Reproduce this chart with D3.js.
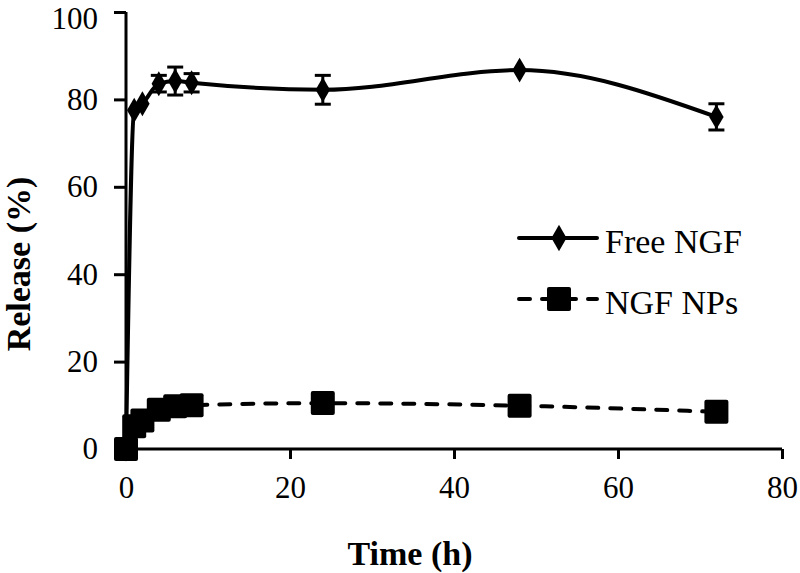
<!DOCTYPE html>
<html>
<head>
<meta charset="utf-8">
<script src="https://cdn.jsdelivr.net/npm/d3@7"></script>
<style>
  html, body { margin: 0; padding: 0; background: #fff; }
  svg { display: block; }
  text { font-family: "Liberation Serif", "Times New Roman", serif; fill: #000; }
</style>
</head>
<body>
<svg id="chart" width="800" height="573"></svg>
<script>
// ---- data ----
const times = [0, 1, 2, 4, 6, 8, 24, 48, 72];
const freeNGF = [0, 77.5, 79, 83.6, 84.2, 83.8, 82.2, 86.7, 76];
const freeNGFErr = [0, 0.5, 0.8, 1.9, 3.2, 2.1, 3.3, 0.6, 3];
const ngfNPs = [0, 5.2, 6.5, 9, 9.8, 10, 10.5, 9.9, 8.5];
const ngfNPsErr = [0, 0.5, 0.5, 0.5, 0.5, 0.5, 0.5, 0.5, 0.5];
const xTicks = [0, 20, 40, 60, 80];
const yTicks = [0, 20, 40, 60, 80, 100];
const seriesNames = ["Free NGF", "NGF NPs"];
const xTitle = "Time (h)";
const yTitle = "Release (%)";

// ---- layout ----
const FONT = '"Liberation Serif", "Times New Roman", serif';
const svg = d3.select("#chart");
const x = d3.scaleLinear().domain([0, 80]).range([126, 782]);
const y = d3.scaleLinear().domain([0, 100]).range([449, 12]);

const lineW = 4;

// axes
const xAxis = svg.append("g").attr("transform", `translate(0,${y(0)})`)
  .call(d3.axisBottom(x).tickValues(xTicks).tickSize(10).tickSizeOuter(0).tickPadding(17));
const yAxis = svg.append("g").attr("transform", `translate(${x(0)},0)`)
  .call(d3.axisLeft(y).tickValues(yTicks).tickSize(12).tickSizeOuter(0).tickPadding(16));
[xAxis, yAxis].forEach(g => {
  g.attr("font-family", null).attr("font-size", null);
  g.select(".domain").attr("stroke", "#000").attr("stroke-width", 3);
  g.selectAll(".tick line").attr("stroke", "#000").attr("stroke-width", 3);
  g.selectAll(".tick text").style("font-family", FONT).style("font-size", "31px").attr("fill", "#000");
});
// keep the top label inside the picture
yAxis.selectAll(".tick text").filter(d => d === 100).attr("dy", "0.54em");
xAxis.select(".domain").attr("d", `M${x(0) - 1.5},0H${x(80)}`);
yAxis.select(".domain").attr("d", `M0,${y(0) + 1.5}V${y(100)}`);

// axis titles
svg.append("text").attr("x", 410).attr("y", 565).attr("text-anchor", "middle")
  .style("font-family", FONT).style("font-size", "34px").style("font-weight", "bold").text(xTitle);
svg.append("text").attr("transform", "translate(30,264) rotate(-90)").attr("text-anchor", "middle")
  .style("font-family", FONT).style("font-size", "34px").style("font-weight", "bold").text(yTitle);

const curve = d3.curveMonotoneX;
const line = d3.line().x(d => x(d[0])).y(d => y(d[1])).curve(curve);

const freeData = times.map((t, i) => [t, freeNGF[i], freeNGFErr[i]]);
const npData = times.map((t, i) => [t, ngfNPs[i], ngfNPsErr[i]]);

function errorBars(data) {
  const g = svg.append("g").attr("stroke", "#000").attr("stroke-width", 3);
  data.forEach(d => {
    if (d[2] < 1) return;
    const cx = x(d[0]), y1 = y(d[1] + d[2]), y2 = y(d[1] - d[2]);
    g.append("line").attr("x1", cx).attr("x2", cx).attr("y1", y1).attr("y2", y2);
    g.append("line").attr("x1", cx - 8).attr("x2", cx + 8).attr("y1", y1).attr("y2", y1);
    g.append("line").attr("x1", cx - 8).attr("x2", cx + 8).attr("y1", y2).attr("y2", y2);
  });
}

// Free NGF
svg.append("path").datum(freeData).attr("d", line).attr("fill", "none")
  .attr("stroke", "#000").attr("stroke-width", lineW).attr("stroke-linecap", "round");
errorBars(freeData);
const diamond = d3.symbol().type(d3.symbolDiamond).size(180);
svg.append("g").selectAll("path").data(freeData).join("path")
  .attr("transform", d => `translate(${x(d[0])},${y(d[1])})`).attr("d", diamond).attr("fill", "#000");

// NGF NPs
svg.append("path").datum(npData).attr("d", line).attr("fill", "none")
  .attr("stroke", "#000").attr("stroke-width", lineW).attr("stroke-dasharray", "11,12").attr("stroke-linecap", "round");
errorBars(npData);
svg.append("g").selectAll("rect").data(npData).join("rect")
  .attr("x", d => x(d[0]) - 12).attr("y", d => y(d[1]) - 12)
  .attr("width", 24).attr("height", 24).attr("rx", 2).attr("fill", "#000");

// legend
const leg = svg.append("g");
const legItems = [
  { name: seriesNames[0], y: 238, dash: null, marker: "diamond" },
  { name: seriesNames[1], y: 299, dash: "11,12", marker: "square" }
];
legItems.forEach(it => {
  leg.append("line").attr("x1", 519).attr("x2", 597).attr("y1", it.y).attr("y2", it.y)
    .attr("stroke", "#000").attr("stroke-width", lineW).attr("stroke-linecap", "round")
    .attr("stroke-dasharray", it.dash);
  if (it.marker === "diamond") {
    leg.append("path").attr("transform", `translate(559,${it.y})`)
      .attr("d", d3.symbol().type(d3.symbolDiamond).size(200)).attr("fill", "#000");
  } else {
    leg.append("rect").attr("x", 547).attr("y", it.y - 12).attr("width", 24).attr("height", 24)
      .attr("rx", 2).attr("fill", "#000");
  }
  leg.append("text").attr("x", 605).attr("y", it.y + 15)
    .style("font-family", FONT).style("font-size", "34px").text(it.name);
});
</script>
</body>
</html>
